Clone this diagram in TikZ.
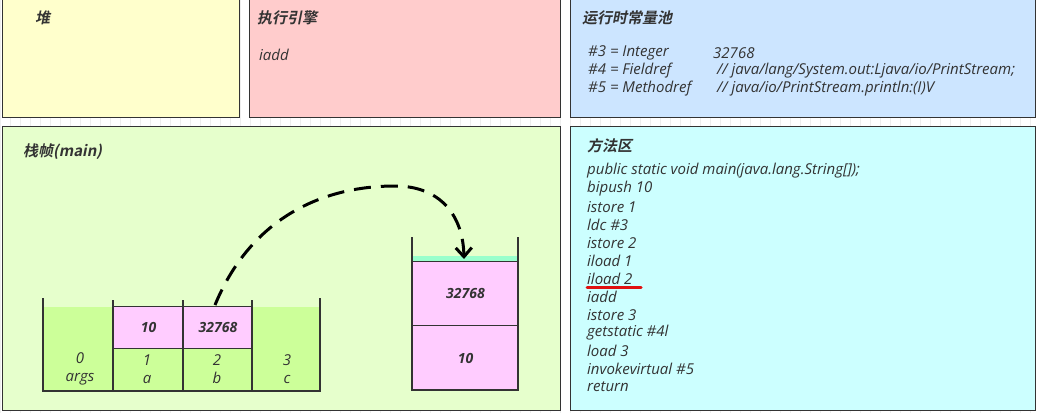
\documentclass[tikz,border=0pt]{standalone}
\usepackage{fontspec}
\setmainfont{Open Sans}
\newfontfamily\cjk[FakeSlant=0.2, BoldFont={Noto Sans CJK SC Bold}, BoldFeatures={FakeSlant=0.2}]{Noto Sans CJK SC}
\usetikzlibrary{arrows.meta}
\definecolor{heapc}{HTML}{FFFFCC}
\definecolor{execc}{HTML}{FFCCCC}
\definecolor{poolc}{HTML}{CCE5FF}
\definecolor{framec}{HTML}{E6FFCC}
\definecolor{methc}{HTML}{CCFFFF}
\definecolor{slotc}{HTML}{CCFF99}
\definecolor{pinkc}{HTML}{FFCCFF}
\definecolor{topc}{HTML}{99FFCC}
\definecolor{edgec}{HTML}{333333}
\definecolor{gridc}{HTML}{EEEEEE}
\definecolor{txtc}{HTML}{333333}
\definecolor{redc}{HTML}{E01010}
\tikzset{
  region/.style={draw=edgec, line width=1.3pt, anchor=north west, inner sep=0pt},
  title/.style={anchor=west, inner sep=0pt, text=txtc, font=\fontsize{15}{17}\selectfont\cjk\bfseries},
  code/.style={anchor=west, inner sep=0pt, text=txtc, font=\fontsize{15}{17}\selectfont\itshape},
  val/.style={inner sep=0pt, text=txtc, font=\fontsize{14}{16}\selectfont\bfseries\itshape},
  idx/.style={inner sep=0pt, text=txtc, align=center, font=\fontsize{15}{18}\selectfont\itshape},
  wall/.style={draw=edgec, line width=2.2pt},
  cell/.style={draw=edgec, line width=1pt, anchor=north west, inner sep=0pt},
  flow/.style={line width=3pt, dash pattern=on 17pt off 10pt, -{Straight Barb[length=9pt,width=16pt,line width=3pt]}}
}
\begin{document}
\begin{tikzpicture}[x=1pt,y=-1pt]
\useasboundingbox (0,0) rectangle (1038,413);
\fill[white] (0,0) rectangle (1038,413);
\draw[gridc, line width=0.6pt, step=10] (0,0) grid (1038,413);

% regions
\node[region, fill=heapc, minimum width=237, minimum height=120] (heap) at (2,-3) {};
\node[region, fill=execc, minimum width=311, minimum height=120] (exec) at (249,-3) {};
\node[region, fill=poolc, minimum width=465, minimum height=120] (pool) at (570,-3) {};
\node[region, fill=framec, minimum width=558, minimum height=284] (frame) at (2,126) {};
\node[region, fill=methc, minimum width=465, minimum height=284] (meth) at (570,126) {};

% titles
\node[title] (heapT) at (35,18) {堆};
\node[title] (execT) at (257,18) {执行引擎};
\node[title] (poolT) at (582,18) {运行时常量池};
\node[title] (frameT) at (23,152) {栈帧(main)};
\node[title] (methT) at (587,146) {方法区};

% execution engine
\node[code] (iaddE) at (259,55) {iadd};

% constant pool
\node[code] (p3) at (588,53) {\#3 = Integer};
\node[code] (p3v) at (713,53) {32768};
\node[code] (p4) at (588,71) {\#4 = Fieldref};
\node[code] (p4v) at (717,71) {// java/lang/System.out:Ljava/io/PrintStream;};
\node[code] (p5) at (588,89) {\#5 = Methodref};
\node[code] (p5v) at (717,89) {// java/io/PrintStream.println:(I)V};

% method area
\foreach \t [count=\i] in {public static void main(java.lang.String[]);, bipush 10, istore 1, ldc \#3, istore 2, iload 1, iload 2, iadd, istore 3, getstatic \#4l, load 3, invokevirtual \#5, return}
  \node[code] (m\i) at (587,153+18*\i) {\t};
\coordinate (ulA) at (587,287.5);
\coordinate (ulE) at (641,287.5);
\draw[redc, line width=3pt, line cap=round] (ulA) -- (ulE);

% local variable table
\node[cell, draw=none, fill=slotc, minimum width=70, minimum height=85] (s0) at (43,306) {};
\node[cell, draw=none, fill=slotc, minimum width=68, minimum height=85] (s3) at (252,306) {};
\node[cell, fill=slotc, minimum width=70, minimum height=43] (s1) at (113,348) {};
\node[cell, fill=slotc, minimum width=69, minimum height=43] (s2) at (183,348) {};
\node[cell, fill=pinkc, minimum width=70, minimum height=42] (v1) at (113,306) {};
\node[cell, fill=pinkc, minimum width=69, minimum height=42] (v2) at (183,306) {};
\node[val] (v1t) at (v1.center) {10};
\node[val] (v2t) at (v2.center) {32768};
\node[idx] (s0t) at (80,369) {0\\args};
\node[idx] (s1t) at (147,369) {1\\a};
\node[idx] (s2t) at (217,369) {2\\b};
\node[idx] (s3t) at (287,369) {3\\c};
\draw[wall] (43,298) -- (43,391) -- (320,391) -- (320,298);
\draw[wall] (113,300) -- (113,391);
\draw[wall] (183,300) -- (183,391);
\draw[wall] (252,300) -- (252,391);

% operand stack
\node[cell, draw=none, fill=topc, minimum width=106, minimum height=7] (top) at (412,255) {};
\node[cell, fill=pinkc, minimum width=106, minimum height=64] (o1) at (412,261) {};
\node[cell, fill=pinkc, minimum width=106, minimum height=65] (o2) at (412,325) {};
\node[val] (o1t) at (o1.center) {32768};
\node[val] (o2t) at (o2.center) {10};
\draw[wall] (412,237) -- (412,390) -- (518,390) -- (518,237);

% arrow
\coordinate (src) at (215,305);
\coordinate (peak) at (395,186);
\coordinate (dst) at (464,259);
\draw[flow] (src) .. controls (250,220) and (320,186) .. (peak) .. controls (440,186) and (463,215) .. (dst);
\end{tikzpicture}
\end{document}
